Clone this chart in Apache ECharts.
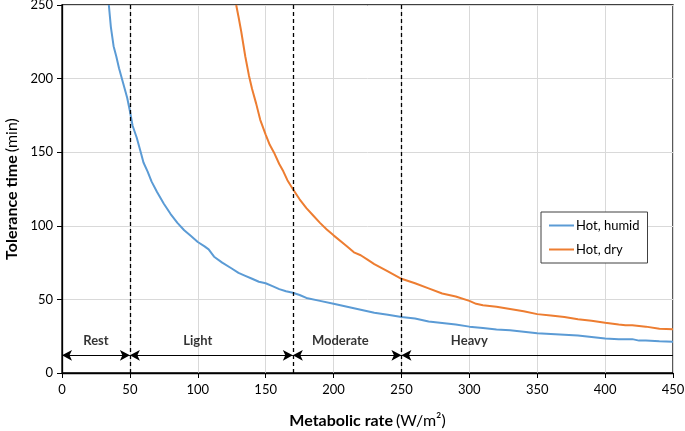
<!DOCTYPE html>
<html>
<head>
<meta charset="utf-8">
<script src="https://cdn.jsdelivr.net/npm/echarts@6/dist/echarts.min.js"></script>
<style>html,body{margin:0;padding:0;background:#fff;}#c{width:685px;height:431px;}</style>
</head>
<body>
<div id="c"></div>
<script>
// Hot, humid curve: [metabolic rate, tolerance time]
var humidX = [34.5,36,38,40,42,45,48,50,52,55,58,60,63,66,70,75,80,85,90,95,100,105,108,112,118,125,130,135,140,145,150,155,160,165,170,175,180,190,200,210,220,230,240,250,260,270,280,290,300,310,320,330,340,350,360,370,380,390,400,410,420,425,430,440,450];
var humidY = [250,235,222,215,207,197,187,178,168,160,150,143,137,130,123,115,108,102,97,93,89,86,84,79,75,71,68,66,64,62,61,59,57,55.5,54.5,53,51,49,47,45,43,41,39.5,38,37,35,34,33,31.5,30.5,29.5,29,28,27,26.5,26,25.5,24.5,23.5,23,23,22,22,21.5,21.3];
// Hot, dry curve
var dryX = [128.3,130,132,135,137.7,140,143,146,150,153,156,160,163,166,170,175,180,185,190,195,200,210,215,220,225,230,240,250,260,270,280,290,300,305,310,320,330,340,350,360,370,380,390,400,410,415,420,430,440,450];
var dryY = [250,242,232,215,202,193,183,172,162,155,150,142,137,131,125,118,112,107,102,97.5,93.5,86,82,80,77,74,69,64,61,57.5,54,52,49,47,46,45,43.5,42,40,39,38,36.5,35.5,34.2,33,32.5,32.5,31.5,30,29.7];
// Activity class boundaries and labels
var boundaries = [50, 170, 250];
var classNames = ['Rest', 'Light', 'Moderate', 'Heavy'];
var classStart = [0, 50, 170, 250];
var classEnd = [50, 170, 250, 450];
var classLabelX = [25, 100, 205, 300];
var arrowY = 12;
var labelY = 22;
var seriesNames = ['Hot, humid', 'Hot, dry'];
var xTicks = [0,50,100,150,200,250,300,350,400,450];
var yTicks = [0,50,100,150,200,250];

function zip(a, b) { return a.map(function (v, i) { return [v, b[i]]; }); }

var font = 'Lato, "Open Sans", sans-serif';
var vLines = boundaries.map(function (b) {
  return [{coord: [b, 0], symbol: 'none'}, {coord: [b, 250], symbol: 'none',
    lineStyle: {type: [4, 3], color: '#000', width: 1.3}}];
});
var arrows = classStart.map(function (s, i) {
  var last = i === classStart.length - 1;
  return [{coord: [s, arrowY], symbol: 'arrow'},
          {coord: [classEnd[i], arrowY], symbol: last ? 'none' : 'arrow'}];
});

var option = {
  animation: false,
  textStyle: {fontFamily: font},
  grid: {left: 62, right: 12, top: 5, bottom: 58, containLabel: false, outerBoundsMode: 'none',
    show: true, borderColor: '#000', borderWidth: 1.3, backgroundColor: 'transparent'},
  legend: {
    data: seriesNames, orient: 'vertical', left: 541, top: 212,
    padding: [7, 8, 7, 8], itemGap: 11, itemWidth: 25, itemHeight: 2, icon: 'rect',
    borderColor: '#404040', borderWidth: 1, backgroundColor: '#fff',
    textStyle: {fontSize: 13, color: '#000', fontFamily: font, padding: [0, 0, 0, -3]}
  },
  xAxis: {
    type: 'value', min: 0, max: 450, interval: 50,
    name: '{b|Metabolic rate} {n|(W/m²)}', nameLocation: 'middle', nameGap: 40,
    nameTextStyle: {rich: {b: {fontSize: 16, fontWeight: 'bold', color: '#000', fontFamily: font}, n: {fontSize: 16, color: '#000', fontFamily: font}}},
    axisLine: {lineStyle: {color: '#000', width: 1.3}},
    axisTick: {show: true, length: 5, lineStyle: {color: '#000'}},
    axisLabel: {fontSize: 13, color: '#000', margin: 10, fontFamily: font,
      formatter: function (v) { return xTicks.indexOf(v) >= 0 ? String(v) : ''; }},
    splitLine: {show: true, lineStyle: {color: '#d9d9d9', width: 1}}
  },
  yAxis: {
    type: 'value', min: 0, max: 250, interval: 50,
    name: '{b|Tolerance time} {n|(min)}', nameLocation: 'middle', nameGap: 41, nameRotate: 90,
    nameTextStyle: {rich: {b: {fontSize: 16, fontWeight: 'bold', color: '#000', fontFamily: font}, n: {fontSize: 16, color: '#000', fontFamily: font}}},
    axisLine: {show: true, lineStyle: {color: '#000', width: 1.3}},
    axisTick: {show: true, length: 5, lineStyle: {color: '#000'}},
    axisLabel: {fontSize: 13, color: '#000', margin: 9, fontFamily: font,
      formatter: function (v) { return yTicks.indexOf(v) >= 0 ? String(v) : ''; }},
    splitLine: {show: true, lineStyle: {color: '#d9d9d9', width: 1}}
  },
  series: [
    {name: seriesNames[0], type: 'line', data: zip(humidX, humidY), showSymbol: false, symbol: 'none',
      lineStyle: {color: '#5B9BD5', width: 2}, itemStyle: {color: '#5B9BD5'}, clip: true},
    {name: seriesNames[1], type: 'line', data: zip(dryX, dryY), showSymbol: false, symbol: 'none',
      lineStyle: {color: '#ED7D31', width: 2}, itemStyle: {color: '#ED7D31'}, clip: true},
    {name: 'refs', type: 'line', data: [], silent: true,
      markLine: {silent: true, animation: false, symbolSize: [8, 10], label: {show: false},
        lineStyle: {color: '#000', width: 1.2, type: 'solid'},
        emphasis: {disabled: true},
        data: vLines.concat(arrows)}},
    {name: 'classes', type: 'scatter', symbolSize: 0, silent: true,
      data: classLabelX.map(function (x, i) { return {value: [x, labelY], name: classNames[i]}; }),
      label: {show: true, position: 'inside', formatter: function (p) { return p.name; },
        fontSize: 13, fontWeight: 'bold', color: '#000', fontFamily: font}}
  ]
};
var chart = echarts.init(document.getElementById('c'), null, {renderer: 'canvas'});
chart.setOption(option);
</script>
</body>
</html>
